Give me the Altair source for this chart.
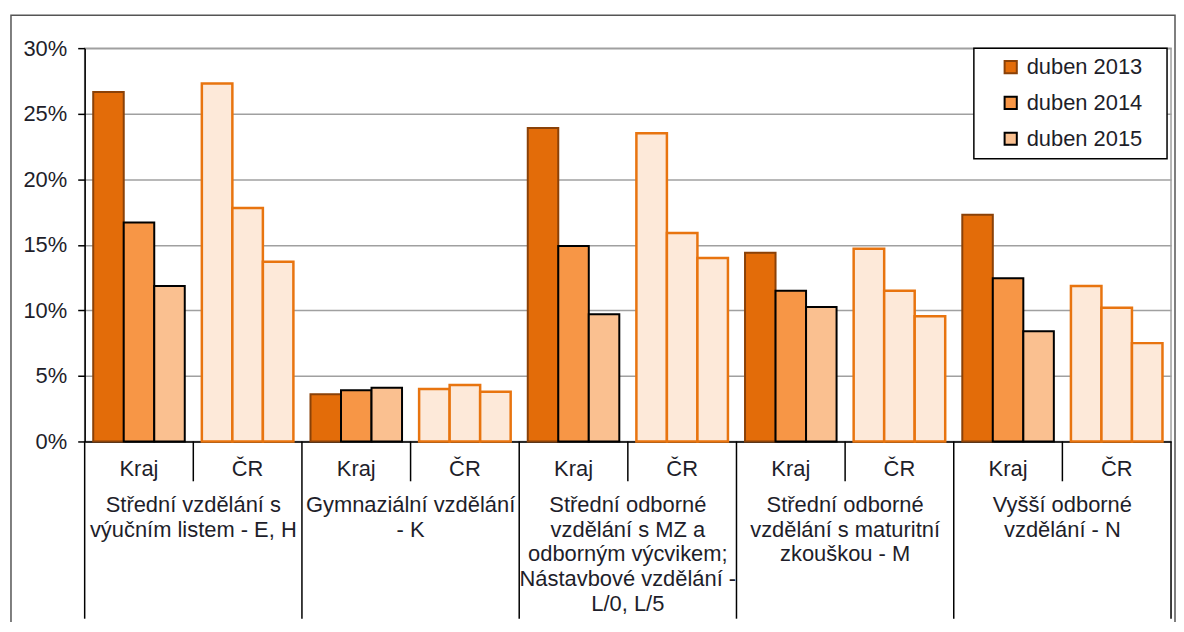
import altair as alt
import pandas as pd

group_labels = [
    "Střední vzdělání s\nvýučním listem - E, H",
    "Gymnaziální vzdělání\n- K",
    "Střední odborné\nvzdělání s MZ a\nodborným výcvikem;\nNástavbové vzdělání -\nL/0, L/5",
    "Střední odborné\nvzdělání s maturitní\nzkouškou - M",
    "Vyšší odborné\nvzdělání - N",
]
regions = ["Kraj", "ČR"]
years = ["duben 2013", "duben 2014", "duben 2015"]

kraj_2013 = [26.65, 3.6, 23.9, 14.4, 17.3]
kraj_2014 = [16.7, 3.9, 14.9, 11.5, 12.45]
kraj_2015 = [11.85, 4.1, 9.7, 10.25, 8.4]
cr_2013 = [27.3, 4.0, 23.5, 14.7, 11.85]
cr_2014 = [17.8, 4.3, 15.9, 11.5, 10.2]
cr_2015 = [13.7, 3.8, 14.0, 9.55, 7.5]

y_ticks = [0, 5, 10, 15, 20, 25, 30]

series = {
    ("Kraj", "duben 2013"): kraj_2013,
    ("Kraj", "duben 2014"): kraj_2014,
    ("Kraj", "duben 2015"): kraj_2015,
    ("ČR", "duben 2013"): cr_2013,
    ("ČR", "duben 2014"): cr_2014,
    ("ČR", "duben 2015"): cr_2015,
}

rows = []
cat_rows = []
cat_order = []
for gi, glabel in enumerate(group_labels):
    for reg in regions:
        cat = f"{gi}|{reg}"
        cat_order.append(cat)
        cat_rows.append({"cat": cat, "region": reg, "label": glabel})
        for yr in years:
            rows.append({"cat": cat, "region": reg, "year": yr,
                         "value": series[(reg, yr)][gi]})
df = pd.DataFrame(rows)
cats = pd.DataFrame(cat_rows)
last_cat = cat_order[-1]

W, H = 1091, 395
FONT = "Liberation Sans"
TXT = "#1e1e2a"
FS = 22

x_scale = alt.Scale(domain=cat_order, paddingInner=0, paddingOuter=0)
x_axis = alt.Axis(title=None, labelExpr="split(datum.value, '|')[1]", ticks=False,
                  labelAngle=0, labelFontSize=FS, labelColor=TXT, labelPadding=17,
                  domainColor="black", domainWidth=1.5, grid=False)
y_enc = alt.Y("value:Q", scale=alt.Scale(domain=[0, 30], nice=False),
              axis=alt.Axis(title=None, values=y_ticks, labelExpr="datum.value + '%'",
                            labelFontSize=FS, labelColor=TXT, tickSize=7,
                            tickColor="black", tickWidth=1.5, labelPadding=11,
                            domainColor="black", domainWidth=1.5,
                            gridColor="#A0A0A0", gridWidth=1.5))
xoff = alt.XOffset("year:N", sort=years,
                   scale=alt.Scale(paddingInner=0, paddingOuter=0.28))

one = pd.DataFrame({"k": [0]})

frame = alt.Chart(one).mark_rect(fill="transparent", stroke="#555", strokeWidth=1.5).encode(
    x=alt.value(-74), x2=alt.value(1095), y=alt.value(-33), y2=alt.value(700))

kraj = alt.Chart(df).transform_filter(alt.datum.region == "Kraj").mark_bar(strokeWidth=2).encode(
    x=alt.X("cat:N", scale=x_scale, axis=x_axis, sort=cat_order),
    xOffset=xoff,
    y=y_enc,
    fill=alt.Fill("year:N", sort=years, title=None,
                  scale=alt.Scale(domain=years, range=["#E36C09", "#F79646", "#FAC090"])),
    stroke=alt.Stroke("year:N", sort=years, title=None,
                      scale=alt.Scale(domain=years, range=["#8A4108", "#000000", "#000000"])),
)

cr = alt.Chart(df).transform_filter(alt.datum.region == "ČR").mark_bar(
    strokeWidth=2.5, fill="#FDE9D9", stroke="#E8740F").encode(
    x=alt.X("cat:N", scale=x_scale, axis=x_axis, sort=cat_order),
    xOffset=xoff,
    y=y_enc,
)

rule_long = alt.Chart(cats).transform_filter(alt.datum.region == "Kraj").mark_rule(
    color="black", strokeWidth=1.5).encode(
    x=alt.X("cat:N", bandPosition=0, scale=x_scale, axis=x_axis, sort=cat_order),
    y=alt.value(H), y2=alt.value(573))
rule_short = alt.Chart(cats).transform_filter(alt.datum.region == "ČR").mark_rule(
    color="black", strokeWidth=1.5).encode(
    x=alt.X("cat:N", bandPosition=0, scale=x_scale, axis=x_axis, sort=cat_order),
    y=alt.value(H), y2=alt.value(435))
rule_end = alt.Chart(cats).transform_filter(alt.datum.cat == last_cat).mark_rule(
    color="black", strokeWidth=1.5).encode(
    x=alt.X("cat:N", bandPosition=1, scale=x_scale, axis=x_axis, sort=cat_order),
    y=alt.value(H), y2=alt.value(573))

group_text = alt.Chart(cats).transform_filter(alt.datum.region == "Kraj").mark_text(
    lineBreak="\n", baseline="alphabetic", align="center", fontSize=FS, lineHeight=24.7,
    color=TXT, font=FONT).encode(
    x=alt.X("cat:N", bandPosition=1, scale=x_scale, axis=x_axis, sort=cat_order),
    y=alt.value(466),
    text="label:N")

legend_box = alt.Chart(one).mark_rect(fill="white", stroke="black", strokeWidth=1.5).encode(
    x=alt.value(893), x2=alt.value(1087), y=alt.value(0), y2=alt.value(111))

chart = alt.layer(frame, legend_box, kraj, cr, rule_long, rule_short, rule_end, group_text).properties(
    width=W, height=H,
    autosize=alt.AutoSizeParams(type="none"),
    padding={"left": 77, "top": 39, "right": 5, "bottom": 180},
).configure(font=FONT).configure_view(stroke="#A0A0A0", strokeWidth=1.5).configure_legend(
    orient="none", legendX=919, legendY=8, padding=0, symbolType="square", symbolSize=150,
    symbolStrokeWidth=2, labelFontSize=FS, labelColor=TXT, labelOffset=5, rowPadding=14,
    strokeColor="transparent", fillColor="transparent", labelFont=FONT,
)

chart.save("out.html", embed_options={"renderer": "svg", "actions": False})
